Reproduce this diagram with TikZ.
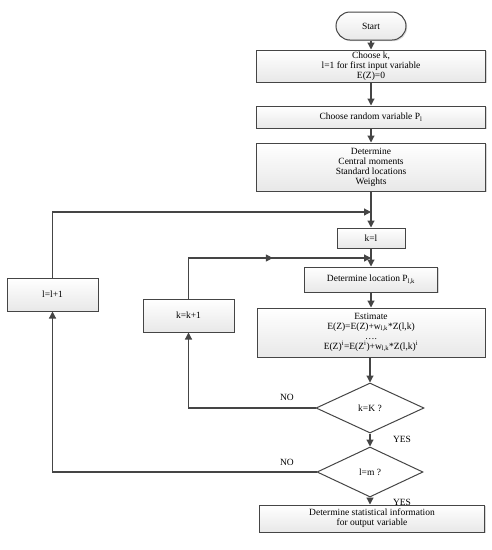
\documentclass[tikz,border=0pt]{standalone}
\usepackage{fontspec}
\setmainfont{Liberation Serif}
\usetikzlibrary{shapes.geometric,arrows.meta,shadows,decorations.markings,calc}
\definecolor{lc}{HTML}{454545}
\tikzset{
  box/.style={draw=lc, line width=1pt, top color=white, bottom color=gray!18,
    drop shadow={shadow xshift=1.2pt, shadow yshift=-1.2pt, fill=gray!45, opacity=0.7},
    inner sep=0pt, align=center, font=\fontsize{9.5}{10}\selectfont},
  dec/.style={draw=lc, line width=1pt, fill=white, diamond, aspect=2.1, inner sep=0pt,
    font=\fontsize{9.5}{10}\selectfont},
  arr/.style={draw=lc, line width=1.2pt, -{Triangle[length=7pt,width=7pt]}},
  lbl/.style={font=\fontsize{9.5}{10}\selectfont, inner sep=0pt},
}
\begin{document}
\begin{tikzpicture}[x=1pt,y=-1pt]
\useasboundingbox (0,0) rectangle (492,550);
\node[box, rounded corners=14pt, minimum width=70pt, minimum height=28pt] (start) at (371,26) {Start};
\node[box, minimum width=229pt, minimum height=32pt] (choosek) at (371,66) {Choose k,\\ l=1 for first input variable\\ E(Z)=0};
\node[box, minimum width=229pt, minimum height=22pt] (chooseP) at (371,117) {Choose random variable P\textsubscript{l}};
\node[box, minimum width=229pt, minimum height=48pt] (determine) at (371,167) {Determine\\ Central moments\\ Standard locations\\ Weights};
\node[box, minimum width=68pt, minimum height=20pt] (kl) at (371,238) {k=l};
\node[box, minimum width=133pt, minimum height=25pt] (detloc) at (371,279.5) {Determine location P\textsubscript{l,k}};
\node[box, minimum width=228pt, minimum height=49pt] (estimate) at (371,332.5) {Estimate\\ E(Z)=E(Z)+w\textsubscript{l,k}*Z(l,k)\\ \dots.\\ E(Z)\textsuperscript{i}=E(Z\textsuperscript{i})+w\textsubscript{l,k}*Z(l,k)\textsuperscript{i}};
\node[dec, minimum width=108pt, minimum height=50pt] (kK) at (370,408) {k=K ?};
\node[dec, minimum width=106pt, minimum height=50pt] (lm) at (370,472) {l=m ?};
\node[box, minimum width=225pt, minimum height=27pt] (final) at (372,518.5) {Determine statistical information\\ for output variable};
\node[box, minimum width=91pt, minimum height=33pt] (llp) at (52.5,294.5) {l=l+1};
\node[box, minimum width=91pt, minimum height=33pt] (kkp) at (188.5,315.5) {k=k+1};
\coordinate (j1) at (371,212);
\coordinate (j2) at (371,258);
\draw[arr] (start) -- (choosek);
\draw[arr] (choosek) -- (chooseP);
\draw[arr] (chooseP) -- (determine);
\draw[arr] (determine) -- (kl);
\draw[arr] (kl) -- (detloc);
\draw[arr] (detloc) -- (estimate);
\draw[arr] (estimate.south -| kK.north) -- (kK.north);
\draw[arr] (kK) -- (lm);
\draw[arr] (lm.south) -- (lm.south |- final.north);
\draw[arr] (kK.west) -| (kkp.south);
\draw[arr] (lm.west) -| (llp.south);
\draw[arr] (llp.north) |- (j1);
\draw[arr, postaction={decorate}, decoration={markings, mark=at position 0.56 with {\arrow{Triangle[length=7pt,width=7pt]}}}] (kkp.north) |- (j2);
\node[lbl] (no1) at (287,397) {NO};
\node[lbl] (no2) at (287,462) {NO};
\node[lbl] (yes1) at (402,439) {YES};
\node[lbl] (yes2) at (402,502) {YES};
\end{tikzpicture}
\end{document}
